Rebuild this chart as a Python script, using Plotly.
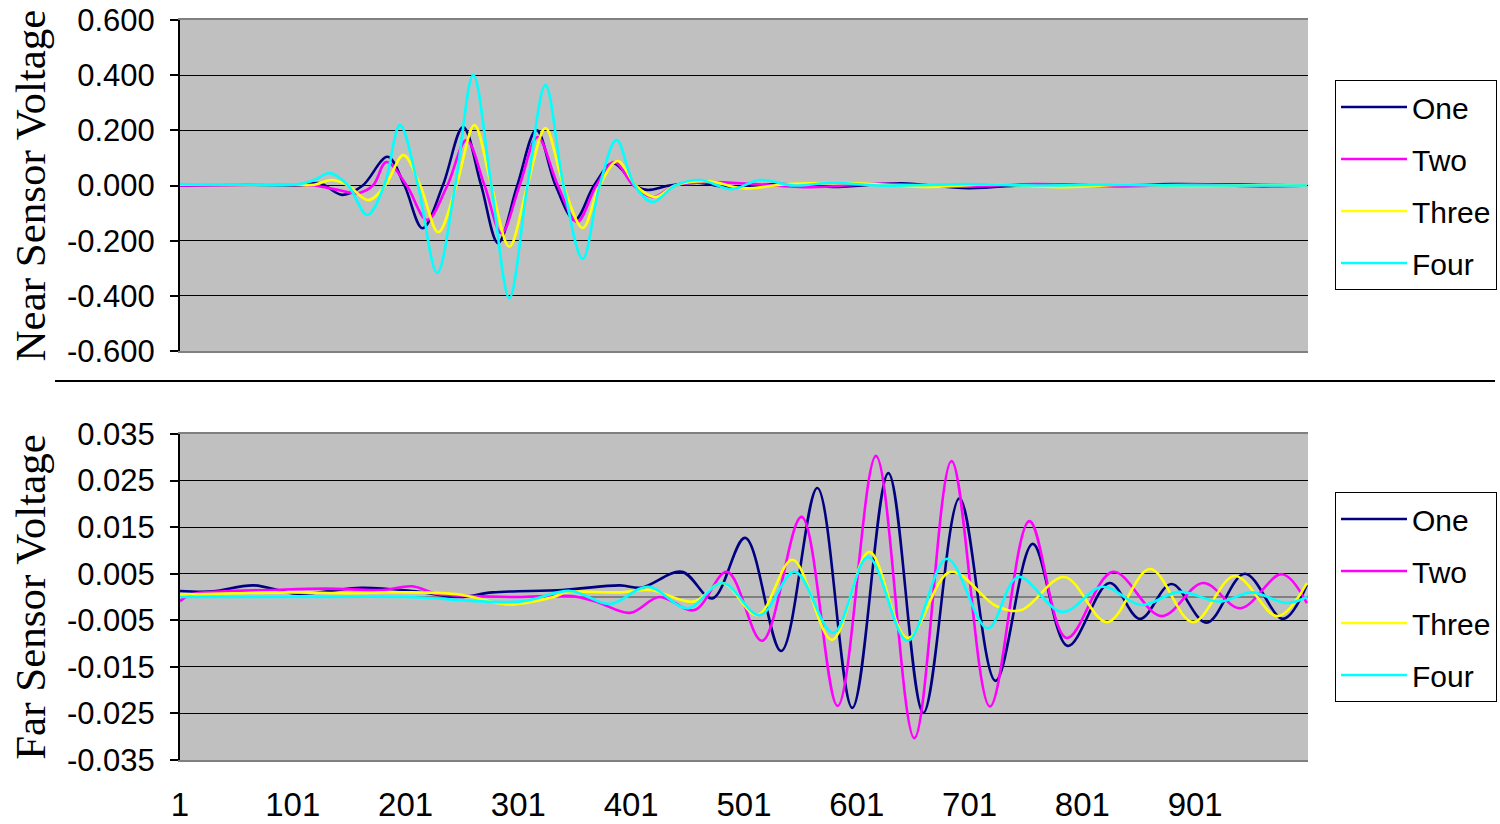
import plotly.graph_objects as go

# the page body margin is removed after plotting (post_script), so the figure fills the window
OFF = 0
W, H = 1500 - OFF, 824 - OFF

series_names = ["One", "Two", "Three", "Four"]
series_colors = ["#000080", "#FF00FF", "#FFFF00", "#00FFFF"]

# ---------------- Near sensor (top) ----------------
near_one_x = [1, 60, 108, 125, 145, 163, 185, 200, 216, 234, 252, 268, 283, 300, 317, 334, 351, 368, 385, 405, 415, 435, 460, 490, 530, 580, 640, 700, 760, 820, 880, 940, 1000]
near_one_y = [0.0, 0.003, 0.0, 0.008, -0.034, 0.0, 0.104, 0.0, -0.155, 0.0, 0.212, 0.0, -0.209, 0.0, 0.201, 0.0, -0.125, 0.0, 0.081, 0.0, -0.016, 0.0, 0.010, -0.008, 0.005, -0.005, 0.008, -0.010, 0.004, 0.0, 0.005, 0.003, 0.0]

near_two_x = [1, 100, 120, 140, 158, 172, 184, 202, 220, 238, 255, 271, 286, 302, 318, 336, 353, 370, 386, 403, 420, 440, 470, 510, 560, 620, 690, 760, 830, 900, 960, 1000]
near_two_y = [0.0, 0.002, 0.0, -0.015, -0.028, 0.0, 0.085, 0.0, -0.125, 0.0, 0.165, 0.0, -0.173, 0.0, 0.176, 0.0, -0.132, 0.0, 0.085, 0.0, -0.042, 0.0, 0.012, 0.005, -0.006, 0.006, -0.004, 0.005, -0.003, 0.004, -0.004, 0.0]

near_three_x = [1, 100, 120, 136, 150, 168, 183, 199, 214, 230, 246, 262, 277, 293, 309, 325, 341, 358, 373, 389, 405, 422, 440, 470, 500, 540, 600, 660, 720, 780, 840, 900, 960, 1000]
near_three_y = [0.003, 0.002, 0.003, 0.020, 0.0, -0.053, 0.0, 0.110, 0.0, -0.169, 0.0, 0.219, 0.0, -0.222, 0.0, 0.208, 0.0, -0.154, 0.0, 0.089, 0.0, -0.042, 0.0, 0.015, -0.010, 0.005, 0.008, -0.005, 0.004, -0.006, 0.003, -0.002, 0.002, 0.0]

near_four_x = [1, 50, 107, 120, 134, 150, 167, 182, 196, 212, 229, 245, 261, 277, 293, 309, 325, 341, 358, 373, 388, 404, 420, 440, 462, 490, 515, 545, 580, 620, 700, 760, 820, 900, 1000]
near_four_y = [0.005, 0.003, 0.005, 0.020, 0.045, 0.0, -0.107, 0.0, 0.219, 0.0, -0.317, 0.0, 0.400, 0.0, -0.408, 0.0, 0.364, 0.0, -0.266, 0.0, 0.165, 0.0, -0.060, 0.0, 0.020, -0.013, 0.020, 0.0, 0.010, 0.0, 0.005, 0.0, 0.003, 0.0, 0.0]

# ---------------- Far sensor (bottom) ----------------
far_one_x = [1, 30, 66, 105, 162, 210, 249, 278, 340, 391, 410, 446, 473, 502, 534, 566, 597, 629, 660, 692, 724, 757, 788, 825, 852, 880, 911, 945, 979, 1000]
far_one_y = [0.0013, 0.0012, 0.0025, 0.0007, 0.0020, 0.0012, 0.0, 0.0010, 0.0015, 0.0025, 0.0020, 0.0054, -0.0003, 0.0127, -0.0116, 0.0234, -0.0238, 0.0266, -0.0249, 0.0212, -0.0180, 0.0114, -0.0105, 0.0030, -0.0047, 0.0028, -0.0055, 0.0050, -0.0047, 0.0026]

far_two_x = [1, 10, 40, 80, 131, 180, 207, 228, 260, 300, 347, 370, 400, 426, 457, 486, 517, 552, 584, 618, 652, 685, 719, 754, 787, 828, 871, 908, 941, 978, 1000]
far_two_y = [-0.0009, 0.0005, 0.0012, 0.0015, 0.0018, 0.0015, 0.0023, 0.0007, 0.0002, 0.0, 0.0002, -0.0010, -0.0034, 0.0, -0.0028, 0.0054, -0.0094, 0.0172, -0.0234, 0.0303, -0.0303, 0.0292, -0.0235, 0.0163, -0.0088, 0.0054, -0.0041, 0.0030, -0.0024, 0.0049, -0.0013]

far_three_x = [1, 50, 100, 150, 200, 250, 293, 332, 344, 391, 418, 456, 482, 513, 544, 579, 612, 646, 684, 725, 747, 785, 823, 861, 899, 936, 974, 1000]
far_three_y = [0.0005, 0.0008, 0.0010, 0.0008, 0.0010, 0.0005, -0.0016, 0.0, 0.0010, 0.0010, 0.0015, -0.0010, 0.0030, -0.0039, 0.0080, -0.0092, 0.0097, -0.0088, 0.0054, -0.0020, -0.0028, 0.0043, -0.0054, 0.0060, -0.0054, 0.0045, -0.0041, 0.0030]

far_four_x = [1, 100, 200, 302, 347, 382, 416, 451, 482, 515, 546, 580, 611, 646, 681, 717, 744, 783, 819, 853, 887, 923, 951, 982, 1000]
far_four_y = [0.0, 0.0, 0.0, -0.0010, 0.0013, -0.0015, 0.0022, -0.0024, 0.0030, -0.0039, 0.0054, -0.0077, 0.0086, -0.0094, 0.0082, -0.0067, 0.0043, -0.0032, 0.0022, -0.0017, 0.0011, -0.0010, 0.0010, -0.0013, 0.0]

x_tick_vals = [1, 101, 201, 301, 401, 501, 601, 701, 801, 901]
x_tick_text = ["1", "101", "201", "301", "401", "501", "601", "701", "801", "901"]
near_ticks = [-0.6, -0.4, -0.2, 0.0, 0.2, 0.4, 0.6]
near_tick_text = ["-0.600", "-0.400", "-0.200", "0.000", "0.200", "0.400", "0.600"]
far_ticks = [-0.035, -0.025, -0.015, -0.005, 0.005, 0.015, 0.025, 0.035]
far_tick_text = ["-0.035", "-0.025", "-0.015", "-0.005", "0.005", "0.015", "0.025", "0.035"]

near_data = [(near_one_x, near_one_y), (near_two_x, near_two_y), (near_three_x, near_three_y), (near_four_x, near_four_y)]
far_data = [(far_one_x, far_one_y), (far_two_x, far_two_y), (far_three_x, far_three_y), (far_four_x, far_four_y)]

fig = go.Figure()
for i, (name, col) in enumerate(zip(series_names, series_colors)):
    xs, ys = near_data[i]
    fig.add_trace(go.Scatter(x=xs, y=ys, name=name, mode="lines",
                             line=dict(color=col, width=2.6, shape="spline", smoothing=1.0),
                             xaxis="x", yaxis="y", legend="legend", legendgroup="n" + name))
for i, (name, col) in enumerate(zip(series_names, series_colors)):
    xs, ys = far_data[i]
    fig.add_trace(go.Scatter(x=xs, y=ys, name=name, mode="lines",
                             line=dict(color=col, width=2.6, shape="spline", smoothing=1.0),
                             xaxis="x2", yaxis="y2", legend="legend2", legendgroup="f" + name))


def px_x(p):
    return (p - OFF) / W


def px_y(p):
    return 1 - (p - OFF) / H


x0, x1 = px_x(180), px_x(1308)
top_d = [px_y(351), px_y(20)]
bot_d = [px_y(760), px_y(434)]

tick_font = dict(family="Liberation Sans, Arial, sans-serif", size=31, color="black")
title_font = dict(family="Liberation Serif, Times New Roman, serif", size=43, color="black")
xlab_font = dict(family="Liberation Sans Narrow, Liberation Sans, Arial, sans-serif", size=33, color="black")
leg_font = dict(family="Liberation Sans, Arial, sans-serif", size=30, color="black")

common_x = dict(range=[1, 1001], showgrid=False, zeroline=False, showline=True, mirror=True,
                linecolor="#808080", linewidth=2, ticks="", automargin=False)
common_y = dict(ticks="outside", ticklen=8, tickcolor="black", tickwidth=1.5, tickfont=tick_font,
                showgrid=True, gridcolor="black", gridwidth=1.2, showline=True, linecolor="black",
                linewidth=2, ticklabelstandoff=9, automargin=False, ticklabeloverflow="allow")
fig.update_layout(
    width=W, height=H, margin=dict(l=0, r=0, t=0, b=0, autoexpand=False),
    paper_bgcolor="white", plot_bgcolor="#C0C0C0",
    xaxis=dict(domain=[x0, x1], anchor="y", showticklabels=False, **common_x),
    xaxis2=dict(domain=[x0, x1], anchor="y2", tickvals=x_tick_vals, ticktext=x_tick_text,
                tickfont=xlab_font, ticklabelstandoff=14, ticklabeloverflow="allow", **common_x),
    yaxis=dict(domain=top_d, anchor="x", range=[-0.6, 0.6], tickvals=near_ticks, ticktext=near_tick_text,
               zeroline=False,
               title=dict(text="Near Sensor Voltage", font=title_font, standoff=8), **common_y),
    yaxis2=dict(domain=bot_d, anchor="x2", range=[-0.035, 0.035], tickvals=far_ticks, ticktext=far_tick_text,
                zeroline=True, zerolinecolor="#808080", zerolinewidth=2,
                title=dict(text="Far Sensor Voltage", font=title_font, standoff=8), **common_y),
    legend=dict(x=px_x(1335), y=px_y(80), xanchor="left", yanchor="top", bgcolor="white",
                bordercolor="black", borderwidth=1, font=leg_font, tracegroupgap=10, itemwidth=66),
    legend2=dict(x=px_x(1335), y=px_y(492), xanchor="left", yanchor="top", bgcolor="white",
                 bordercolor="black", borderwidth=1, font=leg_font, tracegroupgap=10, itemwidth=66),
    shapes=[
        dict(type="line", xref="paper", yref="paper", x0=px_x(55), x1=px_x(1495), y0=px_y(381), y1=px_y(381),
             line=dict(color="black", width=2)),
    ],
)

fig.write_html("out.html", config={"displayModeBar": False},
               post_script="document.body.style.margin='0px';document.body.style.overflow='hidden';")
